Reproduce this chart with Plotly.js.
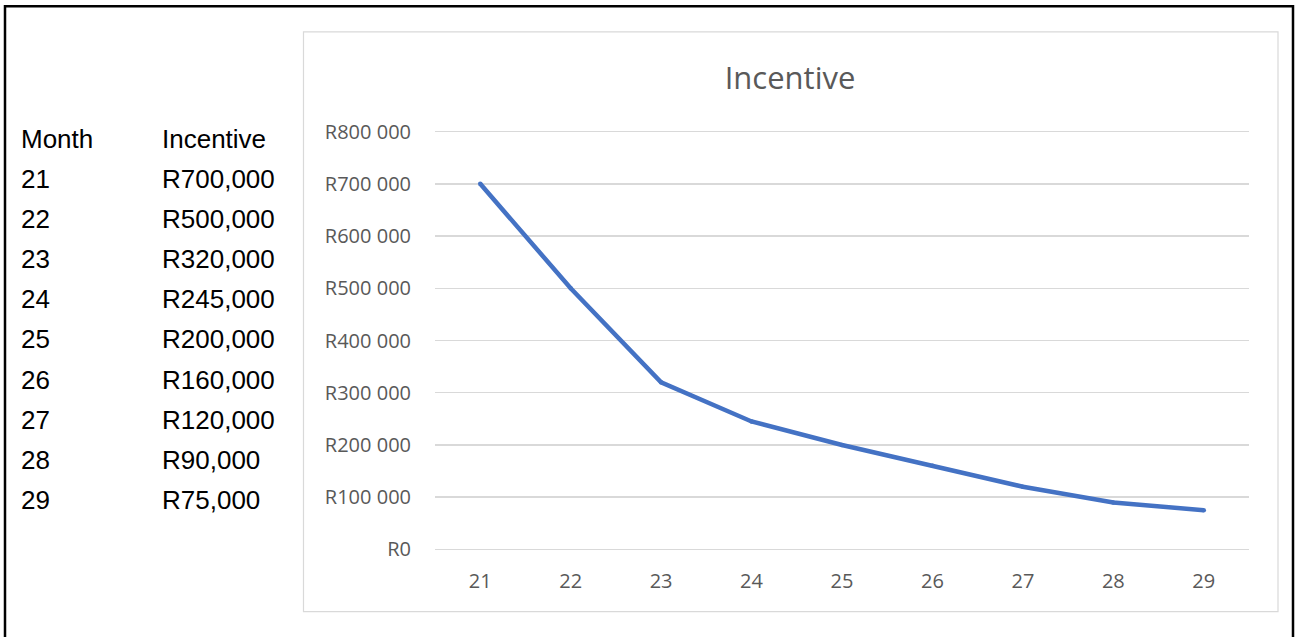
<!DOCTYPE html>
<html>
<head>
<meta charset="utf-8">
<script src="https://cdn.plot.ly/plotly-3.0.1.min.js"></script>
<style>
html,body{margin:0;padding:0;background:#fff;}
#chart{width:1296px;height:637px;}
</style>
</head>
<body>
<div id="chart"></div>
<script>
const months = ["21","22","23","24","25","26","27","28","29"];
const incentives = [700000, 500000, 320000, 245000, 200000, 160000, 120000, 90000, 75000];
const tableHeaders = ["Month", "Incentive"];
const yTickVals = [0, 100000, 200000, 300000, 400000, 500000, 600000, 700000, 800000];
const chartTitle = "Incentive";

// pixel geometry of the plot area (0 at y=549, 800000 at y=132)
const W = 1296, H = 637;
const YMIN = 0, YMAX = 800000, PAD = 3000;
const PIX_PER_UNIT = (549 - 132) / (YMAX - YMIN);
const PL = 435, PR = 1249;
const PT = 132 - PAD * PIX_PER_UNIT, PB = 549 + PAD * PIX_PER_UNIT;
const px = x => (x - PL) / (PR - PL);
const py = y => (PB - y) / (PB - PT);

function fmtTable(v){
  return "R" + v.toString().replace(/\B(?=(\d{3})+(?!\d))/g, ",");
}
function fmtAxis(v){
  return "R" + v.toString().replace(/\B(?=(\d{3})+(?!\d))/g, " ");
}

const annotations = [];
const tableFont = {family: "Liberation Sans, Arial, sans-serif", size: 26, color: "#000000"};
const rowY0 = 139.5, rowStep = 40;
annotations.push({xref:"paper", yref:"paper", x:px(19), y:py(rowY0), xanchor:"left", yanchor:"middle", text:tableHeaders[0], showarrow:false, font:tableFont});
annotations.push({xref:"paper", yref:"paper", x:px(160), y:py(rowY0), xanchor:"left", yanchor:"middle", text:tableHeaders[1], showarrow:false, font:tableFont});
months.forEach((m, i) => {
  const yy = rowY0 + rowStep * (i + 1);
  annotations.push({xref:"paper", yref:"paper", x:px(19), y:py(yy), xanchor:"left", yanchor:"middle", text:m, showarrow:false, font:tableFont});
  annotations.push({xref:"paper", yref:"paper", x:px(160), y:py(yy), xanchor:"left", yanchor:"middle", text:fmtTable(incentives[i]), showarrow:false, font:tableFont});
});

const shapes = [
  {type:"rect", xref:"paper", yref:"paper", x0:px(5), x1:px(1293), y0:py(7), y1:py(645), line:{color:"#000000", width:2.5}, fillcolor:"rgba(0,0,0,0)", layer:"below"},
  {type:"rect", xref:"paper", yref:"paper", x0:px(303.5), x1:px(1278), y0:py(32.5), y1:py(611), line:{color:"#d9d9d9", width:1.2}, fillcolor:"rgba(0,0,0,0)", layer:"below"}
];

const trace = {
  x: months,
  y: incentives,
  type: "scatter",
  mode: "lines+markers",
  line: {color: "#4472C4", width: 4.5},
  marker: {color: "#4472C4", size: 4.5},
  hoverinfo: "x+y"
};

const tickFont = {family: "Open Sans, sans-serif", size: 20, color: "#595959"};

const layout = {
  width: W, height: H,
  margin: {l: PL, r: W - PR, t: PT, b: H - PB, pad: 0},
  paper_bgcolor: "#ffffff",
  plot_bgcolor: "#ffffff",
  showlegend: false,
  title: {
    text: chartTitle,
    xref: "container", yref: "container",
    x: 790 / W, y: 1 - 78 / H,
    xanchor: "center", yanchor: "middle",
    font: {family: "Open Sans, sans-serif", size: 31, color: "#595959"}
  },
  xaxis: {
    type: "category",
    range: [-0.5, 8.5],
    showgrid: false,
    zeroline: false,
    showline: false,
    ticks: "outside",
    ticklen: 12,
    tickcolor: "rgba(0,0,0,0)",
    tickfont: tickFont,
    fixedrange: true
  },
  yaxis: {
    range: [YMIN - PAD, YMAX + PAD],
    tickmode: "array",
    tickvals: yTickVals,
    ticktext: yTickVals.map(fmtAxis),
    showgrid: true,
    gridcolor: "#d9d9d9",
    gridwidth: 1.5,
    zeroline: false,
    showline: false,
    ticks: "outside",
    ticklen: 19,
    tickcolor: "rgba(0,0,0,0)",
    tickfont: tickFont,
    fixedrange: true
  },
  annotations: annotations,
  shapes: shapes
};

Plotly.newPlot("chart", [trace], layout, {displayModeBar: false, staticPlot: true});
</script>
</body>
</html>
